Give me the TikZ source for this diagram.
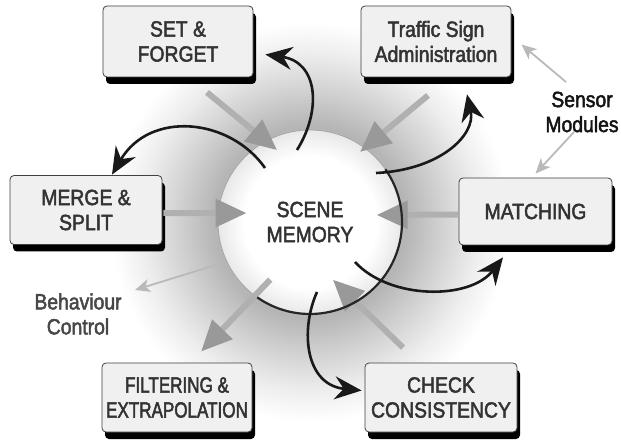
\documentclass[tikz,border=0pt]{standalone}
\usepackage{fontspec}
\setmainfont{Liberation Sans}[FakeStretch=0.88,FakeBold=2.2]
\newfontfamily\narrowfont{Liberation Sans}[FakeStretch=0.775,FakeBold=2.2]
\usetikzlibrary{arrows.meta,shadows,calc}
\pgfdeclareradialshading{glow}{\pgfpoint{0bp}{0bp}}{color(0bp)=(gray!58); color(12bp)=(gray!58); color(16bp)=(gray!38); color(21bp)=(gray!14); color(25bp)=(white); color(50bp)=(white)}
\pgfdeclareradialshading{disc}{\pgfpoint{0bp}{0bp}}{color(0bp)=(white); color(18bp)=(white); color(25bp)=(gray!18); color(50bp)=(gray!18)}
\begin{document}
\begin{tikzpicture}[x=1pt,y=1pt,
  box/.style={draw=black!75, line width=0.8pt, rounded corners=4pt, fill=black!6,
    minimum width=150pt, minimum height=71pt, inner sep=0pt, align=center,
    font=\fontsize{22}{25}\selectfont, text=black!80,
    drop shadow={shadow xshift=3pt, shadow yshift=-7pt, fill=black, opacity=1}},
  lbl/.style={align=center, font=\fontsize{22}{25}\selectfont, inner sep=0pt},
  garrow/.style={draw=gray!62, line width=6pt, -{Triangle[length=31pt,width=27pt,color=gray!80]}},
  thinarrow/.style={draw=gray!55, line width=1.8pt, -{Stealth[length=15pt,width=13pt,inset=4pt]}},
  carrow/.style={draw=black!90, line width=2.6pt, -{Stealth[length=27pt,width=23pt,inset=9pt]}}
]
\useasboundingbox (0,0) rectangle (621,-443);
\coordinate (c) at (310,-222);
\shade[shading=glow] (c) circle (200pt);
\node[circle, minimum size=184pt, inner sep=0pt, outer sep=0pt, shade, shading=disc,
  draw=gray!70, line width=0.8pt, lbl, text=black!80] (mem) at (c) {SCENE\\MEMORY};

% boxes
\node[box] (setf) at (178,-41.5) {SET \&\\FORGET};
\node[box] (traf) at (436,-41.5) {Traffic Sign\\Administration};
\node[box, minimum width=152pt, minimum height=69pt] (merge) at (86,-210) {MERGE \&\\SPLIT};
\node[box, minimum width=153pt, minimum height=67pt] (match) at (535.5,-211.5) {MATCHING};
\node[box, minimum height=69pt, font=\narrowfont\fontsize{22}{25}\selectfont] (filt) at (177,-397.5) {FILTERING \&\\EXTRAPOLATION};
\node[box, minimum width=152pt, minimum height=69pt] (check) at (441,-397.5) {CHECK\\CONSISTENCY};

% free labels
\node[lbl, text=black!72] (beh) at (78,-314) {Behaviour\\Control};
\node[lbl, text=black!92] (sens) at (582,-112) {Sensor\\Modules};

% gray arrows
\draw[garrow] ($(setf.south)+(29,-15)$) -- ($(mem.center)+(114.6:79)$);
\draw[garrow] ($(traf.south)+(-8,-18)$) -- ($(mem.center)+(54.5:86)$);
\draw[garrow] ($(merge.east)+(1,-3)$) -- ($(mem.center)+(172:64)$);
\draw[garrow] ($(match.west)+(0,-3)$) -- ($(mem.center)+(6:67)$);
\draw[garrow] ($(mem.center)+(235.4:70)$) -- ($(filt.north)+(24,11)$);
\draw[garrow] ($(check.north)+(-38,15)$) -- ($(mem.center)+(-68.4:62)$);

% thin arrows
\draw[thinarrow] ($(mem.center)+(205:97)$) -- ($(beh.center)+(57,24)$);
\draw[thinarrow] ($(sens.center)+(-16,30)$) -- ($(traf.east)+(10,-3)$);
\draw[thinarrow] ($(sens.center)+(-8,-20)$) -- ($(match.north)+(0,4)$);

% dark ring part
\draw[black!85, line width=2.2pt] (mem.35) arc[start angle=35, end angle=-125, radius=92pt];

% black curved arrows
\draw[carrow] ($(mem.center)+(-13,72)$) .. controls (322,-110) and (318,-62) .. ($(setf.east)+(12,-13)$);
\draw[carrow] ($(mem.center)+(-45,54)$) .. controls (230,-118) and (150,-110) .. ($(merge.north)+(26,0.5)$);
\draw[carrow] ($(mem.center)+(66,49)$) .. controls (440,-170) and (476,-135) .. ($(traf.south)+(31,-17)$);
\draw[carrow] ($(mem.center)+(45,-40)$) .. controls (390,-300) and (470,-300) .. ($(match.south)+(-32.5,-12)$);
\draw[carrow] ($(mem.center)+(7,-70)$) .. controls (300,-330) and (305,-385) .. ($(check.west)+(-3,7)$);
\end{tikzpicture}
\end{document}
